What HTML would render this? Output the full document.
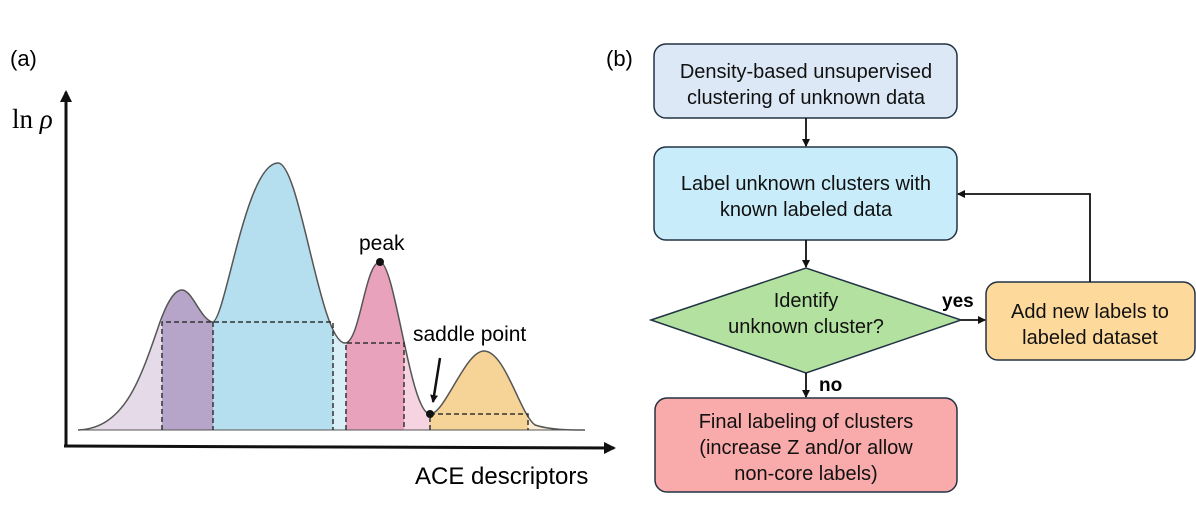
<!DOCTYPE html>
<html><head><meta charset="utf-8"><style>
body{margin:0;background:#fff;}
svg{display:block;font-family:"Liberation Sans",Arial,sans-serif;}
</style></head><body>
<svg width="1196" height="519" viewBox="0 0 1196 519" xmlns="http://www.w3.org/2000/svg">
<defs>
<clipPath id="c"><path d="M78,430 C125,428 140,380 160,322 C168,300 175,290 182,290 C192,290 200,318 212,322 C225,325 245,163 278,163 C300,163 320,343 345,343 C360,343 365,262 380,262 C395,262 410,414 430,414 C445,414 465,351 484,351 C505,351 520,414 535,425 C550,430 570,430 585,430 Z"/></clipPath>
<marker id="a" markerWidth="8" markerHeight="8" refX="7" refY="4" orient="auto" markerUnits="userSpaceOnUse"><path d="M0,0 L8,4 L0,8 Z" fill="#111"/></marker>
<marker id="b" markerWidth="12" markerHeight="12" refX="10" refY="6" orient="auto" markerUnits="userSpaceOnUse"><path d="M0,0 L12,6 L0,12 Z" fill="#111"/></marker>
</defs>
<text x="10" y="66" font-size="22">(a)</text>
<text x="606" y="66" font-size="22">(b)</text>
<text x="12" y="128" font-size="27" font-family="Liberation Serif,serif">ln <tspan font-style="italic">ρ</tspan></text>
<g clip-path="url(#c)">
<rect x="70" y="100" width="92" height="340" fill="#e4dae8"/>
<rect x="162" y="100" width="51" height="340" fill="#b7a4c9"/>
<rect x="213" y="100" width="120" height="340" fill="#b5dfee"/>
<rect x="333" y="100" width="13" height="340" fill="#d9eff7"/>
<rect x="346" y="100" width="58" height="340" fill="#e9a2bb"/>
<rect x="404" y="100" width="26" height="340" fill="#f6d3e0"/>
<rect x="430" y="100" width="98" height="340" fill="#f6d396"/>
<rect x="528" y="100" width="70" height="340" fill="#fbecd3"/>
</g>
<path d="M78,430 C125,428 140,380 160,322 C168,300 175,290 182,290 C192,290 200,318 212,322 C225,325 245,163 278,163 C300,163 320,343 345,343 C360,343 365,262 380,262 C395,262 410,414 430,414 C445,414 465,351 484,351 C505,351 520,414 535,425 C550,430 570,430 585,430" fill="none" stroke="#555" stroke-width="1.5"/>
<line x1="78" y1="430" x2="585" y2="430" stroke="#555" stroke-width="1"/>
<g fill="none" stroke="#333" stroke-width="1.5" stroke-dasharray="5,3">
<path d="M162,430 V322 H333 V430 M213,322 V430"/>
<path d="M346,430 V343 H404 V430"/>
<path d="M430,430 V414 H528 V430"/>
</g>
<circle cx="380" cy="262" r="4" fill="#111"/>
<circle cx="430" cy="414" r="4" fill="#111"/>
<text x="359" y="250" font-size="21">peak</text>
<text x="413" y="341" font-size="21">saddle point</text>
<line x1="440" y1="358" x2="433" y2="402" stroke="#111" stroke-width="2.5" marker-end="url(#a)"/>
<line x1="66" y1="447" x2="66" y2="92" stroke="#111" stroke-width="3" marker-end="url(#b)"/>
<line x1="64" y1="446" x2="614" y2="448" stroke="#111" stroke-width="3" marker-end="url(#b)"/>
<text x="415" y="484" font-size="24">ACE descriptors</text>

<g stroke="#223344" stroke-width="1.5">
<rect x="654" y="44" width="303" height="74" rx="12" fill="#dce8f5"/>
<rect x="654" y="147" width="303" height="93" rx="12" fill="#c9ecfa"/>
<polygon points="651,320 806,268 961,320 806,373" fill="#b3e2a0"/>
<rect x="986" y="282" width="209" height="78" rx="12" fill="#fdd99b"/>
<rect x="655" y="398" width="302" height="94" rx="12" fill="#f9aaaa"/>
</g>
<g font-size="20" text-anchor="middle" fill="#111">
<text x="806" y="78">Density-based unsupervised</text>
<text x="806" y="104">clustering of unknown data</text>
<text x="806" y="190">Label unknown clusters with</text>
<text x="806" y="216">known labeled data</text>
<text x="806" y="307">Identify</text>
<text x="806" y="333">unknown cluster?</text>
<text x="1090" y="318">Add new labels to</text>
<text x="1090" y="344">labeled dataset</text>
<text x="806" y="428">Final labeling of clusters</text>
<text x="806" y="454">(increase Z and/or allow</text>
<text x="806" y="480">non-core labels)</text>
</g>
<text x="942" y="307" font-size="19" font-weight="bold">yes</text>
<text x="819" y="391" font-size="19" font-weight="bold">no</text>
<g stroke="#111" stroke-width="1.8" fill="none">
<line x1="806" y1="118" x2="806" y2="146" marker-end="url(#a)"/>
<line x1="806" y1="240" x2="806" y2="267" marker-end="url(#a)"/>
<line x1="806" y1="373" x2="806" y2="397" marker-end="url(#a)"/>
<line x1="961" y1="320" x2="985" y2="320" marker-end="url(#a)"/>
<polyline points="1090,282 1090,194 958,194" marker-end="url(#a)"/>
</g>
</svg>
</body></html>
